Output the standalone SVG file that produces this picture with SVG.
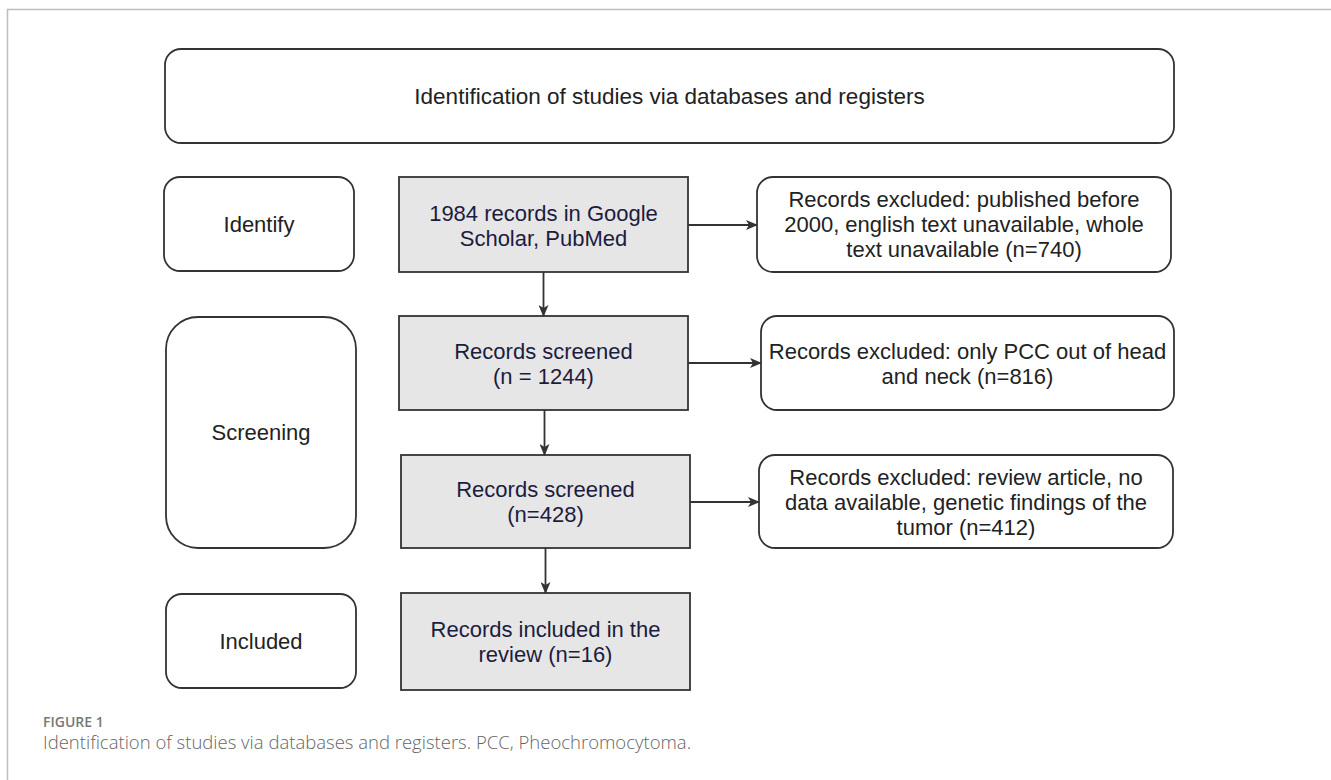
<svg xmlns="http://www.w3.org/2000/svg" width="1331" height="780" viewBox="0 0 1331 780">
<defs>
<marker id="ah" viewBox="0 0 12 10" refX="11" refY="5" markerWidth="12" markerHeight="10" markerUnits="userSpaceOnUse" orient="auto">
<path d="M0,0 L12,5 L0,10 L3,5 Z" fill="#333"/>
</marker>
<style>
.lbl{fill:#fff;stroke:#333;stroke-width:1.8}
.gry{fill:#e6e6e6;stroke:#333;stroke-width:1.8}
.t{font-family:"Liberation Sans",Arial,sans-serif;font-size:22px;fill:#222;text-anchor:middle}
.tg{font-family:"Liberation Sans",Arial,sans-serif;font-size:22px;fill:#1c1c40;text-anchor:middle}
.con{stroke:#333;stroke-width:1.8;fill:none;marker-end:url(#ah)}
.cap{font-family:"Open Sans","Noto Sans",sans-serif}
</style>
</defs>
<rect width="1331" height="780" fill="#fff"/>
<g id="frame">
<path d="M7.5,780 L7.5,9.5 L1331,9.5" fill="none" stroke="#bdbdbd" stroke-width="1.5"/>
</g>
<g id="title">
<rect class="lbl" x="165" y="49" width="1009" height="94" rx="16"/>
<text class="t" x="669.5" y="104" style="font-size:22.5px">Identification of studies via databases and registers</text>
</g>
<g id="identify">
<rect class="lbl" x="164" y="177" width="190" height="94" rx="16"/>
<text class="t" x="259" y="232">Identify</text>
</g>
<g id="screening">
<rect class="lbl" x="166" y="317" width="190" height="231" rx="32"/>
<text class="t" x="261" y="440">Screening</text>
</g>
<g id="included">
<rect class="lbl" x="166" y="594" width="190" height="94" rx="16"/>
<text class="t" x="261" y="649">Included</text>
</g>
<g id="records1984">
<rect class="gry" x="399" y="177" width="289" height="95"/>
<text class="tg" x="543.5" y="221">1984 records in Google</text>
<text class="tg" x="543.5" y="246">Scholar, PubMed</text>
</g>
<g id="screened1244">
<rect class="gry" x="399" y="316" width="289" height="94"/>
<text class="tg" x="543.5" y="358.5">Records screened</text>
<text class="tg" x="543.5" y="383.5">(n = 1244)</text>
</g>
<g id="screened428">
<rect class="gry" x="401" y="455" width="289" height="93"/>
<text class="tg" x="545.5" y="497">Records screened</text>
<text class="tg" x="545.5" y="522">(n=428)</text>
</g>
<g id="included16">
<rect class="gry" x="401" y="593" width="289" height="97"/>
<text class="tg" x="545.5" y="637">Records included in the</text>
<text class="tg" x="545.5" y="662">review (n=16)</text>
</g>
<g id="excluded740">
<rect class="lbl" x="757" y="177" width="414" height="95" rx="16"/>
<text class="t" x="964" y="207">Records excluded: published before</text>
<text class="t" x="964" y="232">2000, english text unavailable, whole</text>
<text class="t" x="964" y="257">text unavailable (n=740)</text>
</g>
<g id="excluded816">
<rect class="lbl" x="761" y="316" width="413" height="94" rx="16"/>
<text class="t" x="967.5" y="358.5">Records excluded: only PCC out of head</text>
<text class="t" x="967.5" y="383.5">and neck (n=816)</text>
</g>
<g id="excluded412">
<rect class="lbl" x="759" y="455" width="414" height="93" rx="16"/>
<text class="t" x="966" y="484.5">Records excluded: review article, no</text>
<text class="t" x="966" y="509.5">data available, genetic findings of the</text>
<text class="t" x="966" y="534.5">tumor (n=412)</text>
</g>
<g id="connectors">
<line class="con" x1="688" y1="225" x2="757" y2="225"/>
<line class="con" x1="688" y1="363" x2="761" y2="363"/>
<line class="con" x1="690" y1="502" x2="759" y2="502"/>
<line class="con" x1="543.5" y1="272" x2="543.5" y2="316"/>
<line class="con" x1="544.5" y1="410" x2="544.5" y2="455"/>
<line class="con" x1="545.5" y1="548" x2="545.5" y2="593"/>
</g>
<g id="caption">
<text class="cap" x="43" y="727" font-size="14" font-weight="600" fill="#777">FIGURE 1</text>
<text class="cap" x="43" y="749" font-size="18.5" font-weight="300" fill="#666">Identification of studies via databases and registers. PCC, Pheochromocytoma.</text>
</g>
</svg>
